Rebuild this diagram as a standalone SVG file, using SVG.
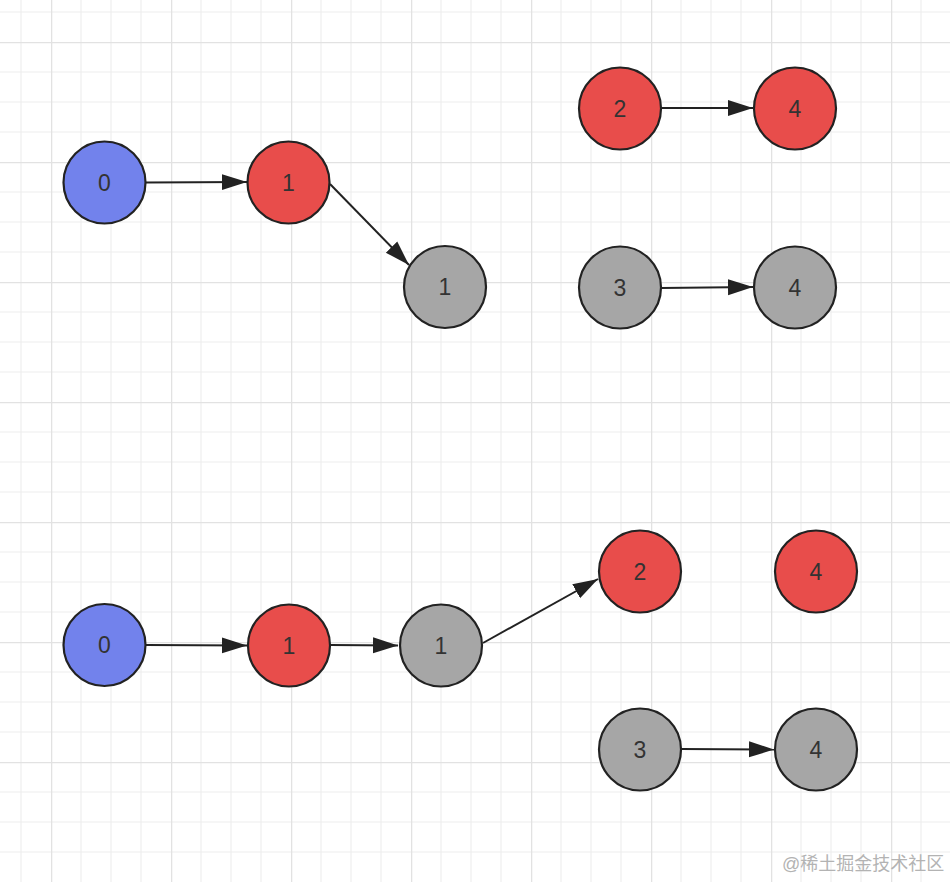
<svg xmlns="http://www.w3.org/2000/svg" width="950" height="882" viewBox="0 0 950 882">
<style>
.n circle{stroke:#222;stroke-width:2.2}
.blue{fill:#7282EC}
.red{fill:#E84D4B}
.gray{fill:#A6A6A6}
.n text{font-family:"Liberation Sans",Arial,sans-serif;font-size:23px;fill:#333;text-anchor:middle;dominant-baseline:central}
.e{stroke:#222;stroke-width:2;fill:none;marker-end:url(#ah)}
.wm{font-family:"Liberation Sans","Noto Sans CJK SC",sans-serif;font-size:18px;fill:#b3b3b3}
</style>
<defs>
<pattern id="grid" x="51" y="42" width="120" height="120" patternUnits="userSpaceOnUse">
<path d="M30,0V120M60,0V120M90,0V120M0,30H120M0,60H120M0,90H120" stroke="#eeeeee" stroke-width="1.2"/>
<path d="M0.5,0V120M0,0.5H120" stroke="#e2e2e2" stroke-width="1.6"/>
</pattern>
<marker id="ah" markerUnits="userSpaceOnUse" markerWidth="26" markerHeight="18" refX="25" refY="9" orient="auto" viewBox="0 0 26 18">
<path d="M0,1 L25,9 L0,17 Z" fill="#222"/>
</marker>
</defs>
<rect width="950" height="882" fill="#fff"/>
<rect width="950" height="882" fill="url(#grid)"/>
<g id="connectors">
<path class="e" d="M146,182.5 L247,182"/>
<path class="e" d="M330,184 L409,265"/>
<path class="e" d="M661,108 L753,108"/>
<path class="e" d="M661,288 L753,287"/>
<path class="e" d="M146,645 L247,645.5"/>
<path class="e" d="M330,645 L398,645.5"/>
<path class="e" d="M483,643 L598,579"/>
<path class="e" d="M681,749 L774,749.5"/>
</g>
<g id="t0" class="n"><circle class="blue" cx="104.5" cy="182.5" r="41"/><text x="104.5" y="182.5">0</text></g>
<g id="t1" class="n"><circle class="red" cx="288.5" cy="182.5" r="41"/><text x="288.5" y="182.5">1</text></g>
<g id="t1g" class="n"><circle class="gray" cx="445" cy="287" r="41"/><text x="445" y="287">1</text></g>
<g id="t2" class="n"><circle class="red" cx="620" cy="108.5" r="41"/><text x="620" y="108.5">2</text></g>
<g id="t4" class="n"><circle class="red" cx="795" cy="108.5" r="41"/><text x="795" y="108.5">4</text></g>
<g id="t3g" class="n"><circle class="gray" cx="620" cy="287.5" r="41"/><text x="620" y="287.5">3</text></g>
<g id="t4g" class="n"><circle class="gray" cx="795" cy="287.5" r="41"/><text x="795" y="287.5">4</text></g>
<g id="b0" class="n"><circle class="blue" cx="104.5" cy="645" r="41"/><text x="104.5" y="645">0</text></g>
<g id="b1" class="n"><circle class="red" cx="289" cy="645.5" r="41"/><text x="289" y="645.5">1</text></g>
<g id="b1g" class="n"><circle class="gray" cx="441" cy="645.5" r="41"/><text x="441" y="645.5">1</text></g>
<g id="b2" class="n"><circle class="red" cx="640" cy="571.5" r="41"/><text x="640" y="571.5">2</text></g>
<g id="b4" class="n"><circle class="red" cx="816" cy="571.5" r="41"/><text x="816" y="571.5">4</text></g>
<g id="b3g" class="n"><circle class="gray" cx="640" cy="749.5" r="41"/><text x="640" y="749.5">3</text></g>
<g id="b4g" class="n"><circle class="gray" cx="816" cy="749.5" r="41"/><text x="816" y="749.5">4</text></g>
<text class="wm" x="782" y="870">@稀土掘金技术社区</text>
</svg>
